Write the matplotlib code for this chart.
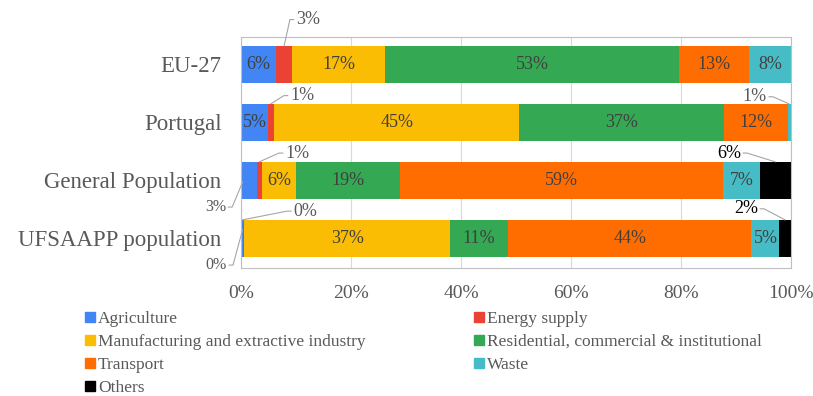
import numpy as np
import matplotlib
matplotlib.use("Agg")
import matplotlib.pyplot as plt
from matplotlib.patches import Patch

plt.rcParams['font.family'] = ['Liberation Serif', 'DejaVu Serif']

# data (share of emissions, %)
groups = ['EU-27', 'Portugal', 'General Population', 'UFSAAPP population']
sectors = ['Agriculture', 'Energy supply', 'Manufacturing and extractive industry',
           'Residential, commercial & institutional', 'Transport', 'Waste', 'Others']
agriculture = [6.4, 4.9, 2.85, 0.3]
energy = [2.9, 1.1, 1.0, 0.3]
manufacturing = [16.9, 44.6, 6.2, 37.4]
residential = [53.4, 37.3, 18.9, 10.6]
transport = [12.8, 11.5, 58.7, 44.2]
waste = [7.6, 0.7, 6.7, 5.1]
others = [0.0, 0.0, 5.9, 2.2]
xticks = [0, 20, 40, 60, 80, 100]

colors = ['#4285F4', '#EA4335', '#FBBC04', '#34A853', '#FF6D01', '#46BDC6', '#000000']
series = [agriculture, energy, manufacturing, residential, transport, waste, others]

fig = plt.figure(figsize=(8.13, 3.96), dpi=100)
ax = fig.add_axes([0.2964, 0.3232, 0.6766, 0.5834])

y = np.arange(len(groups))
left = np.zeros(len(groups))
for name, vals, col in zip(sectors, series, colors):
    vals = np.array(vals)
    bars = ax.barh(y, vals, left=left, height=0.64, color=col, label=name, zorder=2)
    # labels inside the bars for the bigger segments
    labs = [f'{round(v)}%' if (v >= 4.5 and name != 'Others') else '' for v in vals]
    ax.bar_label(bars, labels=labs, label_type='center', fontsize=13, color='#404040')
    left += vals

# small segments get a label with a leader line
# (sector, group, anchor x, anchor y, elbow x, elbow y, side, text colour, size)
callouts = [
    (1, 0, 7.85, -0.32, 8.9, -0.77, 'r', '#595959', 13),
    (1, 1, 5.45, 0.68, 7.8, 0.54, 'r', '#595959', 13),
    (1, 2, 3.35, 1.68, 6.9, 1.53, 'r', '#595959', 13),
    (0, 2, 0.3, 2.03, -1.6, 2.46, 'l', '#595959', 11.5),
    (1, 3, 0.3, 2.68, 8.4, 2.53, 'r', '#595959', 13),
    (0, 3, 0.3, 2.85, -1.45, 3.46, 'l', '#595959', 11.5),
    (5, 1, 99.6, 0.68, 96.7, 0.56, 'l', '#595959', 13),
    (6, 2, 97.1, 1.68, 92.0, 1.53, 'l', 'black', 13),
    (6, 3, 98.9, 2.68, 95.1, 2.49, 'l', 'black', 13),
]
for si, gi, ax_, ay, ex, ey, side, col, fs in callouts:
    sx = ex + 0.7 if side == 'r' else ex - 0.7
    ax.plot([ax_, ex, sx], [ay, ey, ey], color='#a6a6a6', lw=0.8, clip_on=False, zorder=3)
    tx = sx + 0.4 if side == 'r' else sx - 0.4
    ax.text(tx, ey, f'{round(series[si][gi])}%', ha='left' if side == 'r' else 'right',
            va='center', fontsize=fs, color=col, clip_on=False)

ax.set_xlim(0, 100)
ax.set_ylim(3.51, -0.47)
ax.set_xticks(xticks)
ax.set_xticklabels([f'{t}%' for t in xticks])
ax.set_yticks(y)
ax.set_yticklabels(groups)
ax.tick_params(axis='x', length=0, labelsize=14, colors='#595959', pad=12)
ax.tick_params(axis='y', length=0, labelsize=16.5, colors='#595959', pad=14)
ax.grid(axis='x', color='#d9d9d9', lw=0.8, zorder=0)
for sp in ax.spines.values():
    sp.set_color('#bfbfbf')
    sp.set_linewidth(0.8)

handles = [Patch(color=c) for c in colors]
order = [0, 2, 4, 6, 1, 3, 5]
fig.legend([handles[i] for i in order], [sectors[i] for i in order],
           loc='upper left', bbox_to_anchor=(0.096, 0.232), ncol=2, frameon=False,
           fontsize=12.5, labelcolor='#595959', handlelength=0.55, handleheight=0.55,
           handletextpad=0.2, columnspacing=6.25, labelspacing=0.40, borderaxespad=0)

fig.savefig('out.png', dpi=100)
